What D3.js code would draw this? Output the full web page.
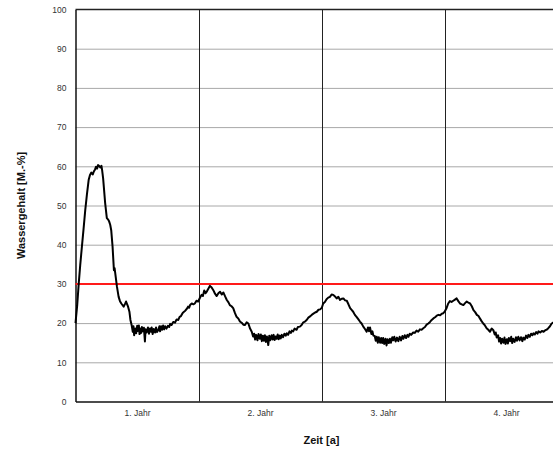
<!DOCTYPE html>
<html>
<head>
<meta charset="utf-8">
<script src="https://cdn.jsdelivr.net/npm/d3@7"></script>
<style>
  html, body { margin: 0; padding: 0; background: #fff; overflow: hidden; }
  svg { display: block; font-family: "Liberation Sans", Arial, sans-serif; }
</style>
</head>
<body>
<svg></svg>
<script>
// Tag seit Beginn der Messung
let days = [
  0, 5, 9.5, 14, 19, 24, 29, 34, 39, 43, 47, 51, 54, 58, 61, 64, 67, 71, 74, 77, 79,
  82, 84, 88, 93, 97, 100, 103, 106, 110, 114, 116, 118, 123, 128, 132, 136, 143, 147, 150, 156, 160, 163, 167,
  170, 172, 174, 177, 180, 183, 185, 188, 190, 192, 195, 197, 200, 203, 206, 208, 211, 215, 218, 221, 224, 226, 229,
  232, 236, 239, 242, 246, 249, 251, 254, 257, 260, 263, 266, 270, 274, 278, 281, 285, 290, 295, 300, 305, 309, 313,
  318, 322, 325, 330, 334, 337, 340, 345, 350, 354, 359, 364, 369, 374, 378, 382, 386, 390, 395, 399, 404, 409, 414,
  419, 424, 429, 434, 439, 444, 449, 454, 458, 463, 468, 473, 478, 483, 488, 493, 498, 503, 508, 513, 518,
  523, 527, 530, 533, 536, 540, 543, 547, 550, 553, 556, 559, 562, 565, 568, 572, 575, 578, 582, 585, 588, 591,
  594, 597, 600, 603, 606, 609, 612, 616, 620, 624, 627, 631, 635, 639, 642, 646, 650, 656, 660, 666, 671, 676,
  681, 686, 691, 696, 701, 706, 711, 716, 721, 726, 731, 735, 740, 745, 750, 755, 760, 765, 770, 775, 780, 785,
  790, 795, 800, 805, 810, 815, 820, 824, 829, 834, 839, 844, 849, 854, 859,
  864, 868, 871, 874, 878, 881, 884, 888, 891, 894, 897, 900, 904, 907, 910, 913, 916, 920, 923, 926, 930, 933,
  936, 940, 943, 946, 950, 954, 958, 962, 966, 970, 973, 977, 981, 985, 988, 992, 996, 1002, 1007, 1012, 1017,
  1022, 1027, 1032, 1037, 1042, 1047, 1052, 1057, 1062, 1067, 1072, 1077, 1082, 1087, 1091, 1096, 1101, 1106,
  1111, 1116, 1121, 1126, 1131, 1136, 1141, 1146, 1151, 1156, 1161, 1166, 1171, 1176, 1181, 1186, 1191, 1196,
  1200, 1205, 1210, 1215, 1220, 1225, 1230, 1235, 1240, 1244, 1247, 1250, 1254, 1257, 1260, 1263, 1266, 1270,
  1273, 1276, 1280, 1283, 1286, 1290, 1293, 1296, 1299, 1303, 1307, 1310, 1314, 1318, 1322, 1326, 1329, 1333,
  1337, 1341, 1344, 1348, 1352, 1356, 1359, 1363, 1367, 1371, 1374, 1379, 1384, 1389, 1394, 1398, 1403, 1408,
  1413, 1419, 1426, 1432, 1438
];
// Wassergehalt in M.-%
let wasser = [
  20.0, 24.5, 30.0, 34.8, 39.5, 44.1, 48.9, 52.9, 56.5, 57.8, 58.4, 57.9, 58.6, 59.2, 59.9, 59.4, 60.3, 60.0, 59.7, 60.1, 59.0,
  56.9, 54.8, 50.6, 46.8, 46.4, 45.9, 45.1, 43.7, 39.5, 33.5, 34.0, 32.7, 29.3, 26.7, 25.6, 25.0, 24.2, 24.9, 25.5, 24.2, 22.9, 20.8, 19.3,
  17.8, 19.2, 16.9, 18.6, 17.4, 19.3, 18.0, 19.4, 17.2, 18.6, 17.5, 19.0, 17.9, 18.8, 15.3, 18.4, 17.6, 18.9, 17.3, 18.6, 17.8, 18.9, 17.2,
  18.5, 17.6, 18.9, 17.7, 18.3, 19.2, 17.9, 19.2, 18.3, 19.4, 18.4, 19.2, 18.6, 19.3, 19.0, 19.8, 19.5, 20.3, 20.1, 20.9, 20.8, 21.6, 21.8,
  22.6, 22.9, 23.1, 23.6, 24.2, 23.9, 24.6, 25.0, 24.8, 25.0, 25.7, 25.5, 26.4, 27.2, 26.9, 28.3, 27.6, 28.1, 28.9, 29.5, 29.1, 28.4, 27.5,
  26.9, 27.6, 28.0, 27.3, 27.8, 26.8, 25.9, 25.3, 24.6, 24.3, 23.8, 22.6, 21.6, 21.2, 20.4, 20.1, 19.6, 19.5, 20.2, 19.9, 18.6,
  17.8, 16.6, 17.3, 15.8, 17.0, 15.6, 17.2, 16.0, 17.1, 15.4, 16.8, 15.5, 16.9, 15.2, 16.6, 14.4, 16.8, 15.6, 16.9, 15.8, 17.0, 15.7,
  16.6, 16.0, 17.1, 15.9, 16.8, 16.1, 17.0, 16.4, 17.3, 16.8, 17.4, 17.0, 17.9, 17.5, 18.1, 17.9, 18.6, 18.3, 19.0, 19.1, 19.5, 20.2,
  20.4, 20.8, 21.4, 21.7, 22.1, 22.4, 22.7, 22.9, 23.4, 23.5, 23.9, 25.0, 25.4, 26.1, 26.5, 26.7, 27.3, 27.2, 26.8, 26.3, 26.7, 25.9,
  26.2, 26.3, 25.8, 25.7, 24.8, 23.8, 23.3, 22.9, 22.1, 21.6, 21.0, 20.4, 19.9, 19.1, 18.5,
  17.8, 18.9, 17.9, 18.9, 17.2, 17.9, 16.8, 16.7, 15.5, 16.5, 15.0, 16.4, 15.0, 16.2, 14.9, 16.2, 14.7, 16.0, 14.3, 15.9, 14.9, 16.0,
  15.0, 16.4, 15.6, 16.5, 15.3, 16.3, 15.4, 16.5, 15.6, 16.7, 16.0, 16.9, 16.2, 17.0, 16.5, 17.3, 17.0, 17.6, 17.5, 18.1, 17.8,
  18.4, 18.3, 18.7, 19.0, 19.6, 19.9, 20.3, 20.8, 21.2, 21.5, 21.9, 22.1, 22.0, 22.4, 22.5, 23.0, 23.8, 25.0,
  25.6, 25.4, 25.7, 26.0, 26.3, 25.6, 25.0, 24.8, 24.6, 25.1, 25.5, 25.2, 25.0, 24.3, 23.3, 22.8, 22.1, 21.8,
  21.2, 20.5, 19.9, 19.4, 18.7, 18.3, 17.8, 18.6, 18.2, 17.1, 17.6, 16.3, 16.9, 15.3, 16.2, 14.8, 16.0, 15.0,
  16.3, 14.7, 15.9, 14.8, 16.2, 15.4, 16.5, 14.9, 16.0, 15.2, 16.4, 15.5, 16.5, 15.6, 16.4, 15.4, 16.3, 15.8,
  16.8, 16.2, 17.0, 16.5, 17.3, 16.9, 17.4, 17.1, 17.7, 17.3, 17.9, 17.6, 18.0, 17.8, 18.2, 18.3, 18.7, 19.2,
  19.9, 20.2, 20.6, 20.9, 21.2
];

let yTicks = [0, 10, 20, 30, 40, 50, 60, 70, 80, 90, 100];
let yearBounds = [365, 730, 1095];
let yearLabels = ["1. Jahr", "2. Jahr", "3. Jahr", "4. Jahr"];
let grenzwert = 30;

let width = 553;
let height = 450;
let plotLeft = 75.5;
let plotRight = 567.5;   // plot runs past the window edge
let plotTop = 9.5;
let plotBottom = 401.5;

let svg = d3.select('svg')
            .attr('width', width)
            .attr('height', height)

let x = d3.scaleLinear()
          .domain([0, 1460])
          .range([plotLeft, plotRight])

let y = d3.scaleLinear()
          .domain([0, 100])
          .range([plotBottom, plotTop])

// gridlines
svg.append('g')
   .attr('transform', `translate(${plotLeft},0)`)
   .call(d3.axisLeft(y).tickValues(yTicks.slice(1, -1)).tickSize(-(plotRight - plotLeft)).tickFormat(''))
   .call(g => g.select('.domain').remove())
   .call(g => g.selectAll('line').attr('stroke', '#a8a8a8').attr('stroke-width', 1))

// year boundaries
svg.append('g')
   .selectAll('line')
   .data(yearBounds)
   .join('line')
   .attr('x1', d => Math.round(x(d)) + 0.5)
   .attr('x2', d => Math.round(x(d)) + 0.5)
   .attr('y1', plotTop)
   .attr('y2', plotBottom)
   .attr('stroke', '#222')
   .attr('stroke-width', 1)

// top frame
svg.append('line')
   .attr('x1', plotLeft).attr('x2', plotRight)
   .attr('y1', y(100)).attr('y2', y(100))
   .attr('stroke', '#222').attr('stroke-width', 1.3)

// y axis labels
svg.append('g')
   .attr('transform', `translate(${plotLeft},0)`)
   .call(d3.axisLeft(y).tickValues(yTicks).tickSize(0).tickPadding(9))
   .call(g => g.select('.domain').attr('stroke', '#111').attr('stroke-width', 1.5))
   .call(g => g.selectAll('text').attr('font-size', 8.5).attr('fill', '#333').attr('font-family', '"Liberation Sans", Arial, sans-serif'))

// x axis: labels at the middle of each year
let yearCenters = yearLabels.map((d, i) => 365 * i + 182.5)
svg.append('g')
   .attr('transform', `translate(0,${plotBottom})`)
   .call(d3.axisBottom(x).tickValues(yearCenters).tickSize(0).tickPadding(8)
           .tickFormat((d, i) => yearLabels[i]))
   .call(g => g.select('.domain').attr('stroke', '#111').attr('stroke-width', 1.5))
   .call(g => g.selectAll('text').attr('font-size', 8.5).attr('fill', '#333').attr('font-family', '"Liberation Sans", Arial, sans-serif'))

// limit line
svg.append('line')
   .attr('x1', plotLeft).attr('x2', plotRight)
   .attr('y1', y(grenzwert)).attr('y2', y(grenzwert))
   .attr('stroke', '#ff1a1a').attr('stroke-width', 2)

// measured water content
let line = d3.line()
             .x((d, i) => x(days[i]))
             .y(d => y(d))

svg.append('path')
   .datum(wasser)
   .attr('d', line)
   .attr('fill', 'none')
   .attr('stroke', '#000')
   .attr('stroke-width', 2)
   .attr('stroke-linejoin', 'round')

// titles
svg.append('text')
   .attr('transform', `translate(25,${(plotTop + plotBottom) / 2}) rotate(-90)`)
   .attr('text-anchor', 'middle')
   .attr('font-size', 11)
   .attr('font-weight', 'bold')
   .attr('fill', '#111')
   .text('Wassergehalt [M.-%]')

svg.append('text')
   .attr('x', (plotLeft + plotRight) / 2)
   .attr('y', 444)
   .attr('text-anchor', 'middle')
   .attr('font-size', 11)
   .attr('font-weight', 'bold')
   .attr('fill', '#111')
   .text('Zeit [a]')
</script>
</body>
</html>
